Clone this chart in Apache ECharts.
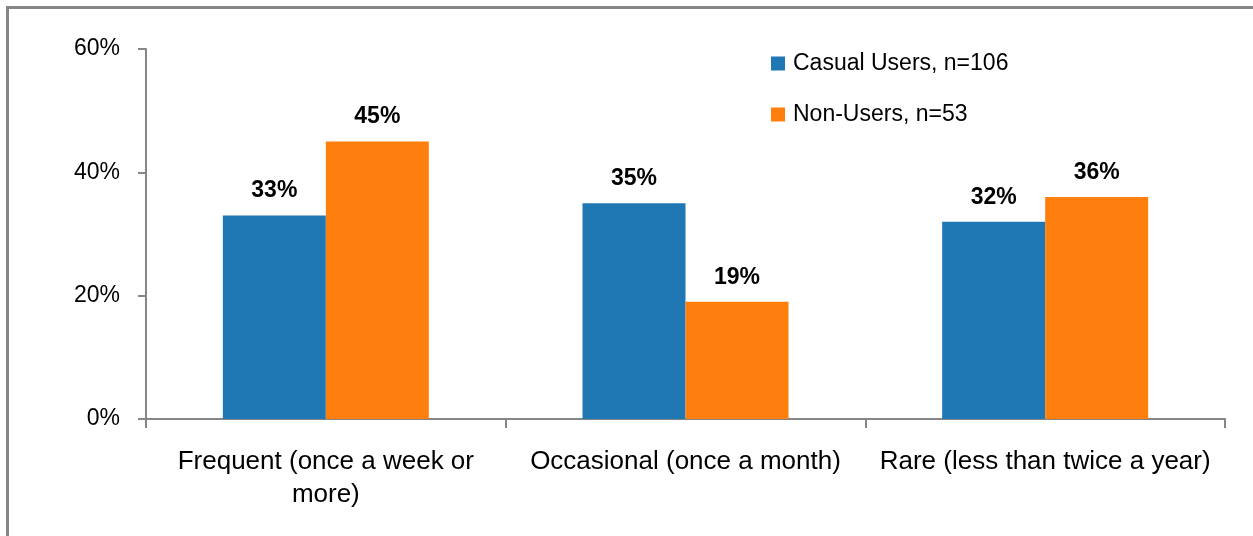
<!DOCTYPE html>
<html>
<head>
<meta charset="utf-8">
<script src="https://cdn.jsdelivr.net/npm/echarts@6/dist/echarts.min.js"></script>
<style>
  html, body { margin: 0; padding: 0; background: #fff; }
  #chart { width: 1253px; height: 536px; }
</style>
</head>
<body>
<div id="chart"></div>
<script>
// data
let categories = ['Frequent (once a week or\nmore)', 'Occasional (once a month)', 'Rare (less than twice a year)']
let casualUsers = [33, 35, 32]
let nonUsers = [45, 19, 36]
let yTicks = [0, 20, 40, 60]

let font = 'Liberation Sans, Arial, sans-serif'
let myChart = echarts.init(document.getElementById('chart'))

myChart.setOption({
    animation: false,
    textStyle: { fontFamily: font },
    graphic: [{
        type: 'rect',
        shape: { x: 7.5, y: 7.5, width: 1280, height: 560 },
        style: { fill: null, stroke: '#868686', lineWidth: 3 },
        silent: true
    }],
    grid: { left: 146, right: 28, top: 49, bottom: 117 },
    legend: {
        orient: 'vertical',
        left: 766,
        top: 47,
        icon: 'rect',
        itemWidth: 14,
        itemHeight: 14,
        itemGap: 28,
        textStyle: { fontSize: 23, color: '#000', fontFamily: font, padding: [0, 0, 0, 3] },
        data: ['Casual Users, n=106', 'Non-Users, n=53']
    },
    xAxis: {
        type: 'category',
        data: categories,
        axisLine: { lineStyle: { color: '#868686', width: 2 } },
        axisTick: { show: true, interval: 0, length: 9, lineStyle: { color: '#868686', width: 2 } },
        axisLabel: { interval: 0, hideOverlap: false, fontSize: 26, color: '#000', margin: 26, lineHeight: 33, fontFamily: font }
    },
    yAxis: {
        type: 'value',
        min: yTicks[0],
        max: yTicks[yTicks.length - 1],
        interval: 20,
        splitLine: { show: false },
        axisLine: { show: true, lineStyle: { color: '#868686', width: 2 } },
        axisTick: { show: true, length: 8, lineStyle: { color: '#868686', width: 2 } },
        axisLabel: { fontSize: 23, color: '#000', margin: 26, formatter: '{value}%', fontFamily: font }
    },
    series: [
        {
            name: 'Casual Users, n=106',
            type: 'bar',
            data: casualUsers,
            barWidth: 103,
            barGap: '0%',
            itemStyle: { color: '#1F77B4' },
            label: { show: true, position: 'top', distance: 13, formatter: '{c}%', fontSize: 23, fontWeight: 'bold', color: '#000', fontFamily: font }
        },
        {
            name: 'Non-Users, n=53',
            type: 'bar',
            data: nonUsers,
            barWidth: 103,
            barGap: '0%',
            itemStyle: { color: '#FF7F0E' },
            label: { show: true, position: 'top', distance: 13, formatter: '{c}%', fontSize: 23, fontWeight: 'bold', color: '#000', fontFamily: font }
        }
    ]
})
</script>
</body>
</html>
